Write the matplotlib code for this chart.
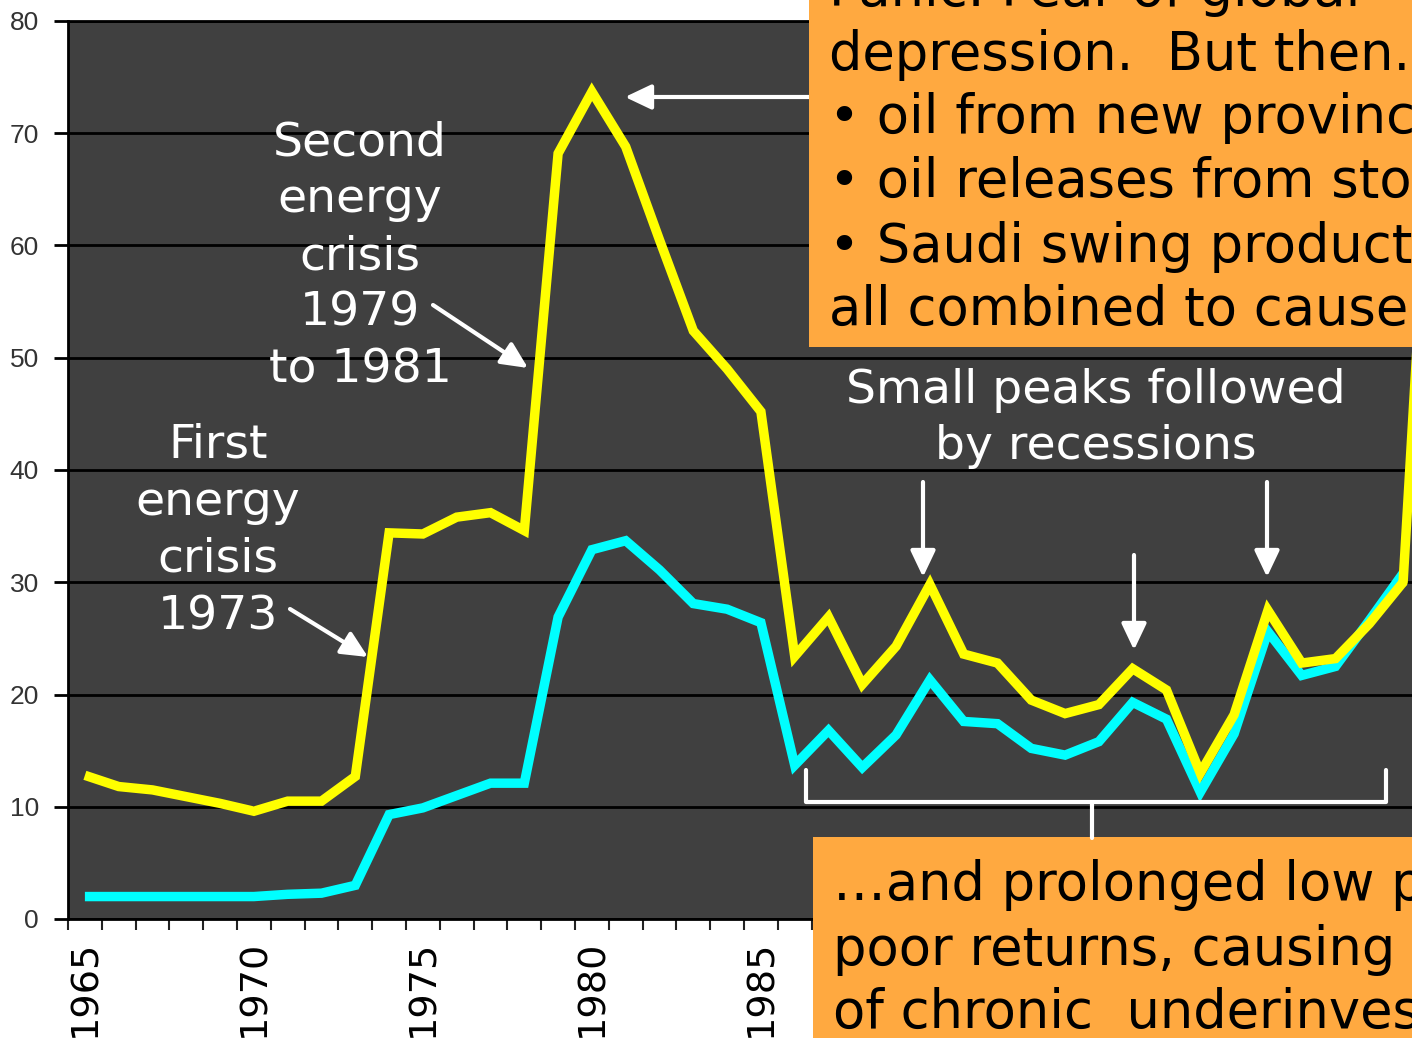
import matplotlib
matplotlib.use("Agg")
import matplotlib.pyplot as plt
from matplotlib.patches import Rectangle
from matplotlib.lines import Line2D

# ---------------- data ----------------
years = list(range(1965, 2005))
real_price = [12.8, 11.8, 11.5, 10.9, 10.3, 9.6, 10.5, 10.5, 12.7, 34.4,
              34.3, 35.8, 36.2, 34.6, 68.2, 73.7, 68.8, 60.5, 52.4, 49.0,
              45.2, 23.4, 26.9, 20.9, 24.3, 29.8, 23.6, 22.8, 19.5, 18.3,
              19.1, 22.3, 20.4, 13.0, 18.2, 27.5, 22.8, 23.2, 26.3, 30.0]
nominal_price = [2.0, 2.0, 2.0, 2.0, 2.0, 2.0, 2.2, 2.3, 3.0, 9.3,
                 9.9, 11.0, 12.1, 12.1, 26.9, 32.9, 33.7, 31.1, 28.1, 27.6,
                 26.4, 13.7, 16.8, 13.5, 16.4, 21.3, 17.6, 17.4, 15.2, 14.6,
                 15.8, 19.3, 17.8, 11.3, 16.5, 25.6, 21.7, 22.5, 26.6, 30.8]
# labels visible in the picture (later ones are hidden behind the text box)
label_years = [1965, 1970, 1975, 1980, 1985]
y_ticks = [0, 10, 20, 30, 40, 50, 60, 70, 80]

W, H = 1412, 1038
fig = plt.figure(figsize=(W / 100, H / 100), dpi=100)
fig.patch.set_facecolor("white")

def fx(px):
    return px / W

def fy(py):
    return 1 - py / H

PX_PER_YEAR = 33.8
x_left = 1964.5
x_right = 2005.5
ax_left_px, ax_top_px, ax_bot_px = 68, 21, 919
ax_right_px = ax_left_px + (x_right - x_left) * PX_PER_YEAR
ax = fig.add_axes([fx(ax_left_px), fy(ax_bot_px),
                   (ax_right_px - ax_left_px) / W, (ax_bot_px - ax_top_px) / H])
ax.set_facecolor("#404040")
ax.set_xlim(x_left, x_right)
ax.set_ylim(0, 80)

ax.plot(years, nominal_price, color="#00FFFF", lw=6.8, solid_joinstyle="miter",
        solid_capstyle="butt", zorder=3)
ax.plot(years, real_price, color="#FFFF00", lw=6.8, solid_joinstyle="miter",
        solid_capstyle="butt", zorder=4)

# final steep rise (continues off the chart)
ax.annotate("", xy=(years[-1], real_price[-1]), xycoords="data",
            xytext=(1418, H - 330), textcoords="figure pixels",
            arrowprops=dict(arrowstyle="-", color="#FFFF00", lw=6.8,
                            shrinkA=0, shrinkB=0), zorder=4)

# axes styling
ax.set_yticks(y_ticks)
ax.set_yticklabels([str(v) for v in y_ticks], family="Liberation Sans",
                   fontsize=19, color="#333333")
ax.yaxis.grid(True, color="black", lw=2)
ax.set_axisbelow(True)
ax.tick_params(axis="y", direction="out", length=10, width=2, color="black", pad=11)

ax.set_xticks(label_years)
ax.set_xticklabels([str(v) for v in label_years], rotation=90,
                   family="DejaVu Sans", fontsize=27.5, color="black")
ax.set_xticks([x_left + k for k in range(int(x_right - x_left) + 1)], minor=True)
ax.tick_params(axis="x", which="major", length=0, pad=15)
ax.tick_params(axis="x", which="minor", direction="out", length=8, width=1.5,
               color="#222222")
for s in ["left", "bottom", "top"]:
    ax.spines[s].set_color("black")
    ax.spines[s].set_linewidth(2)
ax.spines["right"].set_visible(False)

# ---------------- white annotations ----------------
white_font = dict(family="DejaVu Sans", fontsize=34, color="white")

def put_lines(lines, cx, baselines, **kw):
    for t, b in zip(lines, baselines):
        fig.text(fx(cx), fy(b), t, ha="center", va="baseline", zorder=6, **kw)

put_lines(["Second", "energy", "crisis", "1979", "to 1981"], 360,
          [155, 212, 269, 326, 383], **white_font)
put_lines(["First", "energy", "crisis", "1973"], 218,
          [458, 515, 572, 629], **white_font)
put_lines(["Small peaks followed", "by recessions"], 1096,
          [403, 459], **white_font)

def arrow(x0, y0, x1, y1, color="white"):
    ax.annotate("", xy=(x1, H - y1), xycoords="figure pixels",
                xytext=(x0, H - y0), textcoords="figure pixels",
                arrowprops=dict(arrowstyle="-|>,head_length=0.8,head_width=0.38",
                                mutation_scale=20, lw=3, color=color,
                                shrinkA=0, shrinkB=0), zorder=7)

arrow(290, 609, 368, 657)
arrow(433, 305, 528, 368)
arrow(812, 97, 625, 97)
arrow(923, 482, 923, 577)
arrow(1134, 555, 1134, 650)
arrow(1267, 482, 1267, 577)

# bracket
for xs, ys in [([806, 806, 1386, 1386], [770, 802, 802, 770]),
               ([1092, 1092], [802, 838])]:
    fig.add_artist(Line2D([fx(v) for v in xs], [fy(v) for v in ys],
                          transform=fig.transFigure, color="white", lw=3,
                          solid_capstyle="round", solid_joinstyle="round",
                          zorder=6))

# ---------------- orange boxes ----------------
orange = "#FFA940"
fig.add_artist(Rectangle((fx(809), fy(347)), fx(W + 20) - fx(809), 1 - fy(347) + 0.05,
                         transform=fig.transFigure, facecolor=orange,
                         edgecolor="none", zorder=5))
fig.add_artist(Rectangle((fx(813), fy(H + 20)), fx(W + 20) - fx(813), fy(837) - fy(H + 20),
                         transform=fig.transFigure, facecolor=orange,
                         edgecolor="none", zorder=5))

box_font = dict(family="DejaVu Sans", fontsize=38, color="black")
box1_lines = ["Panic. Fear of global",
              "depression.  But then...",
              "\u2022 oil from new provinces",
              "\u2022 oil releases from stocks",
              "\u2022 Saudi swing production",
              "all combined to cause a collapse"]
for t, b in zip(box1_lines, [6, 70, 133, 197, 262, 325]):
    fig.text(fx(829), fy(b), t, ha="left", va="baseline", zorder=6, **box_font)

box2_lines = ["\u2026and prolonged low prices and",
              "poor returns, causing a period",
              "of chronic  underinvestment"]
for t, b in zip(box2_lines, [900, 965, 1028]):
    fig.text(fx(833), fy(b), t, ha="left", va="baseline", zorder=6, **box_font)

fig.savefig("out.png", dpi=100)
